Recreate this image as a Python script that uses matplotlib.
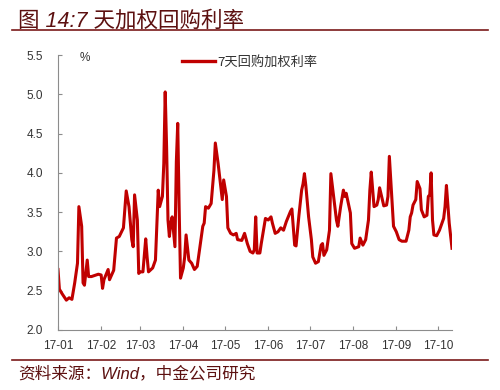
import matplotlib
matplotlib.use("Agg")
import matplotlib.pyplot as plt
import pandas as pd
from matplotlib.lines import Line2D

plt.rcParams['font.family'] = ['Liberation Sans', 'Noto Sans CJK SC', 'DejaVu Sans']

title = "图 14:7 天加权回购利率"
source = "资料来源：Wind，中金公司研究"
series_name = "7天回购加权利率"
unit = "%"

dates = [
    "2017-01-01", "2017-01-02", "2017-01-04", "2017-01-07", "2017-01-09", "2017-01-11",
    "2017-01-13", "2017-01-15", "2017-01-16", "2017-01-18", "2017-01-19", "2017-01-20",
    "2017-01-22", "2017-01-23", "2017-01-25", "2017-01-30",
    "2017-02-01", "2017-02-02", "2017-02-03", "2017-02-06", "2017-02-07", "2017-02-10",
    "2017-02-12", "2017-02-14", "2017-02-17", "2017-02-18", "2017-02-19", "2017-02-21",
    "2017-02-23", "2017-02-24", "2017-02-25", "2017-02-27", "2017-02-28",
    "2017-03-01", "2017-03-03", "2017-03-05", "2017-03-06", "2017-03-07", "2017-03-10",
    "2017-03-12", "2017-03-14", "2017-03-15", "2017-03-17", "2017-03-18", "2017-03-19",
    "2017-03-20", "2017-03-21", "2017-03-22", "2017-03-23", "2017-03-24", "2017-03-26",
    "2017-03-27", "2017-03-28", "2017-03-29", "2017-03-30",
    "2017-04-01", "2017-04-02", "2017-04-03", "2017-04-05", "2017-04-07", "2017-04-09",
    "2017-04-11", "2017-04-13", "2017-04-15", "2017-04-16", "2017-04-17", "2017-04-19",
    "2017-04-21", "2017-04-23", "2017-04-24", "2017-04-26", "2017-04-28", "2017-04-29",
    "2017-04-30",
    "2017-05-02", "2017-05-03", "2017-05-05", "2017-05-07", "2017-05-09", "2017-05-10",
    "2017-05-13", "2017-05-15", "2017-05-17", "2017-05-19", "2017-05-21", "2017-05-22",
    "2017-05-23", "2017-05-24", "2017-05-26", "2017-05-27", "2017-05-30",
    "2017-06-01", "2017-06-02", "2017-06-03", "2017-06-04", "2017-06-06", "2017-06-08",
    "2017-06-10", "2017-06-12", "2017-06-14", "2017-06-17", "2017-06-18", "2017-06-20",
    "2017-06-21", "2017-06-23", "2017-06-25", "2017-06-26", "2017-06-27", "2017-06-28",
    "2017-06-30",
    "2017-07-02", "2017-07-03", "2017-07-05", "2017-07-07", "2017-07-09", "2017-07-10",
    "2017-07-11", "2017-07-13", "2017-07-15", "2017-07-16", "2017-07-18", "2017-07-20",
    "2017-07-21", "2017-07-23", "2017-07-25", "2017-07-26", "2017-07-27", "2017-07-30",
    "2017-07-31",
    "2017-08-02", "2017-08-05", "2017-08-06", "2017-08-08", "2017-08-10", "2017-08-12",
    "2017-08-13", "2017-08-14", "2017-08-16", "2017-08-18", "2017-08-19", "2017-08-20",
    "2017-08-22", "2017-08-23", "2017-08-25", "2017-08-26", "2017-08-27", "2017-08-28",
    "2017-08-30",
    "2017-09-01", "2017-09-03", "2017-09-05", "2017-09-08", "2017-09-10", "2017-09-11",
    "2017-09-12", "2017-09-13", "2017-09-15", "2017-09-16", "2017-09-18", "2017-09-19",
    "2017-09-21", "2017-09-23", "2017-09-24", "2017-09-25", "2017-09-26", "2017-09-27",
    "2017-09-28", "2017-09-30",
    "2017-10-02", "2017-10-05", "2017-10-06", "2017-10-07", "2017-10-09", "2017-10-11",
]

rates = [
    2.77, 2.52, 2.46, 2.38, 2.41, 2.39,
    2.60, 2.85, 3.57, 3.32, 2.60, 2.57,
    2.89, 2.68, 2.68, 2.71,
    2.70, 2.53, 2.64, 2.77, 2.64, 2.76,
    3.17, 3.19, 3.30, 3.53, 3.77, 3.57,
    3.15, 3.06, 3.72, 3.40, 2.72,
    2.74, 2.74, 3.16, 2.93, 2.74, 2.79,
    2.89, 3.78, 3.57, 3.70, 4.12, 5.03,
    4.33, 3.40, 3.19, 3.36, 3.44, 3.06,
    4.14, 4.63, 3.57, 2.66,
    2.79, 2.93, 3.21, 2.89, 2.85, 2.77,
    2.81, 3.06, 3.32, 3.36, 3.57, 3.55,
    3.61, 4.03, 4.38, 4.12, 3.82, 3.66,
    3.91,
    3.70, 3.30, 3.23, 3.21, 3.23, 3.15,
    3.14, 3.23, 3.10, 3.00, 2.98, 3.02,
    3.44, 2.98, 2.98, 3.10, 3.42,
    3.40, 3.42, 3.44, 3.36, 3.23, 3.25,
    3.30, 3.27, 3.38, 3.51, 3.54, 3.08,
    3.07, 3.45, 3.78, 3.86, 3.99, 3.84,
    3.44,
    3.15, 2.93, 2.85, 2.87, 3.08, 3.10,
    2.95, 3.02, 3.27, 3.99, 3.70, 3.40,
    3.32, 3.57, 3.78, 3.70, 3.74, 3.49,
    3.10,
    3.04, 3.06, 3.17, 3.08, 3.15, 3.40,
    3.78, 4.01, 3.57, 3.59, 3.66, 3.81,
    3.66, 3.58, 3.59, 3.70, 4.21, 3.91,
    3.32,
    3.25, 3.15, 3.13, 3.13, 3.27, 3.44,
    3.49, 3.59, 3.66, 3.89, 3.80, 3.53,
    3.44, 3.46, 3.70, 3.72, 4.00, 3.40,
    3.21, 3.20,
    3.27, 3.42, 3.57, 3.84, 3.36, 3.04,
]

month_labels = ["17-01", "17-02", "17-03", "17-04", "17-05",
                "17-06", "17-07", "17-08", "17-09", "17-10"]
y_ticks = [2.0, 2.5, 3.0, 3.5, 4.0, 4.5, 5.0, 5.5]

x = pd.to_datetime(dates)

W, H = 500, 390
fig = plt.figure(figsize=(W / 100, H / 100), dpi=100)
ax = fig.add_axes([58 / W, 1 - 330 / H, (452 - 58) / W, (330 - 55) / H])

line_color = "#C00000"
ax.plot(x, rates, color=line_color, lw=2.2, solid_joinstyle='round')

ax.set_ylim(2.0, 5.5)
ax.set_yticks(y_ticks)
ax.set_yticklabels([f"{v:.1f}" for v in y_ticks])
ax.set_xlim(pd.Timestamp("2017-01-01"), pd.Timestamp("2017-10-11"))
ticks = pd.date_range("2017-01-01", periods=len(month_labels), freq="MS")
ax.set_xticks(ticks)
ax.set_xticklabels(month_labels)

for s in ["top", "right"]:
    ax.spines[s].set_visible(False)
for s in ["left", "bottom"]:
    ax.spines[s].set_color("#8c8c8c")
    ax.spines[s].set_linewidth(0.8)
ax.tick_params(axis="both", direction="in", length=3, width=0.8, color="#8c8c8c",
               labelsize=8.5, labelcolor="#333333")
ax.tick_params(axis="y", pad=11)
ax.tick_params(axis="x", pad=7)

ax.text((80 - 58) / 394, (330 - 58) / 275, unit, transform=ax.transAxes,
        fontsize=8.5, color="#333333", ha="left", va="center")

handle = Line2D([], [], color=line_color, lw=2.4)
leg = ax.legend([handle], [series_name], loc="center", bbox_to_anchor=(0.487, 0.975),
                frameon=False, handlelength=2.5, handletextpad=0.15,
                prop={"family": ["Noto Sans CJK SC"], "size": 9.5})
for t in leg.get_texts():
    t.set_color("#333333")

title_color = "#5c1010"
fig.text(18 / W, 1 - 21 / H, title, fontsize=15.5, style="italic", color=title_color,
         ha="left", va="center", family=["Liberation Sans", "Noto Sans CJK SC"])
fig.add_artist(Line2D([12 / W, 488 / W], [1 - 30 / H, 1 - 30 / H], color="#7a1a1a", lw=1.2))
fig.add_artist(Line2D([12 / W, 488 / W], [1 - 360 / H, 1 - 360 / H], color="#7a1a1a", lw=1.2))
fig.text(18 / W, 1 - 373 / H, source, fontsize=12, style="italic", color=title_color,
         ha="left", va="center", family=["Liberation Sans", "Noto Sans CJK SC"])

fig.savefig("out.png", dpi=100)
